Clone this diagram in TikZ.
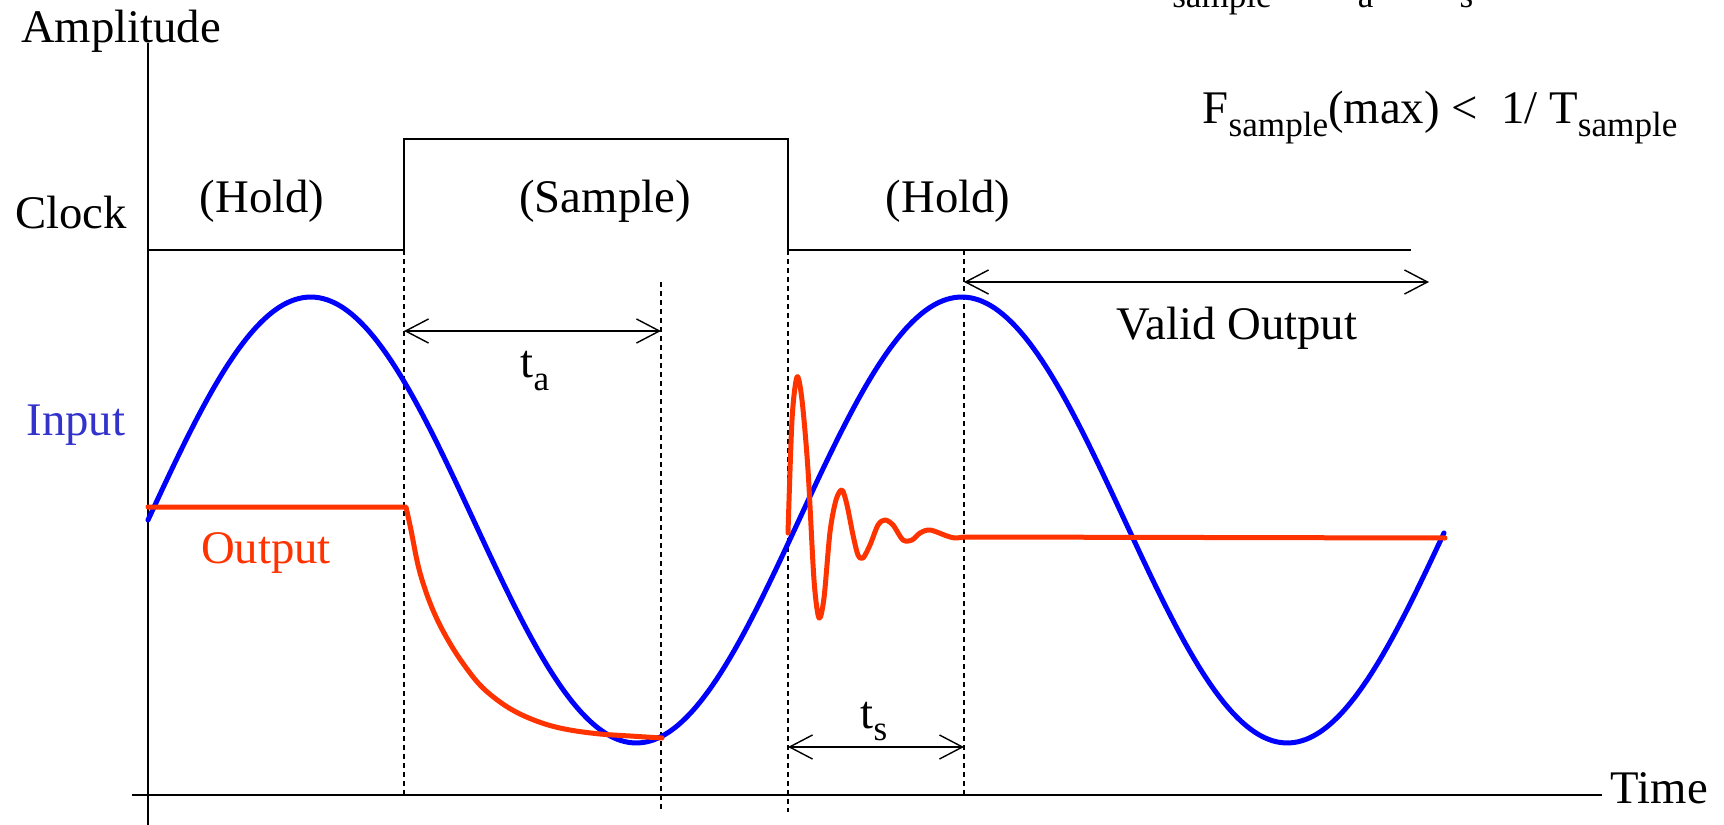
\documentclass[tikz,border=0pt]{standalone}
\usepackage{fontspec}
\setmainfont{Liberation Serif}
\usepackage{xcolor}
\usetikzlibrary{arrows.meta}
\definecolor{inblue}{RGB}{0,0,255}
\definecolor{intext}{RGB}{51,51,204}
\definecolor{outred}{RGB}{255,51,0}
\newcommand{\lowsub}[1]{\raisebox{-0.27em}{\fontsize{10}{10}\selectfont #1}}

\begin{document}
\begin{tikzpicture}[
  x=0.1mm, y=-0.1mm,
  font=\fontsize{13.3}{16}\selectfont,
  every node/.style={inner sep=0pt},
  lbl/.style={anchor=base},
  lblw/.style={anchor=base west},
  thinline/.style={line width=0.4pt},
  guide/.style={line width=0.4pt,dash pattern=on 0.5mm off 0.4mm},
  dim/.style={line width=0.4pt,{Straight Barb[length=2.3mm,width=2.4mm]}-{Straight Barb[length=2.3mm,width=2.4mm]}},
  input/.style={inblue,line width=0.5mm,line cap=round,line join=round},
  output/.style={outred,line width=0.5mm,line cap=round,line join=round}
]
\useasboundingbox (0,0) rectangle (1724,825);
\clip (0,0) rectangle (1724,825);

% axes
\coordinate (ytop) at (148,43);
\coordinate (ybot) at (148,825);
\coordinate (xleft) at (132,795);
\coordinate (xright) at (1602,795);
\draw[thinline] (ytop) -- (ybot);
\draw[thinline] (xleft) -- (xright);

% clock
\coordinate (ck0) at (148,250);
\coordinate (rise) at (404,250);
\coordinate (fall) at (788,250);
\coordinate (ckend) at (1411,250);
\draw[thinline] (ck0) -- (rise) -- (404,139) -- (788,139) -- (fall) -- (ckend);

% time marks
\coordinate (acq) at (661,282);
\coordinate (settle) at (964,250);
\draw[guide] (rise) -- (404,795);
\draw[guide] (acq) -- (661,812);
\draw[guide] (fall) -- (788,812);
\draw[guide] (settle) -- (964,795);

% intervals
\coordinate (ta0) at (404,331);
\coordinate (ta1) at (661,331);
\coordinate (ts0) at (788,747);
\coordinate (ts1) at (964,747);
\coordinate (vo0) at (964,282);
\coordinate (vo1) at (1429,282);
\draw[dim] (ta0) -- (ta1);
\draw[dim] (ts0) -- (ts1);
\draw[dim] (vo0) -- (vo1);

% signals
\draw[input] plot[domain=148:1444,samples=160,smooth] (\x,{520-223*sin((\x-148)/651*360)});
\draw[output] (148,507) -- plot[smooth,tension=0.6] coordinates {(406,507) (411,530) (418,565)
  (426,592) (436,617) (448,640) (462,662) (480,685) (500,702) (520,714) (545,724) (570,730)
  (600,734) (630,736) (662,738)};
\draw[output] plot[smooth,tension=0.5] coordinates {(788,533) (792,420) (797,377) (802,400) (808,470)
  (814,580) (819,618) (824,598) (830,532) (836,500) (842,490) (847,505) (853,535) (858,555)
  (863,558) (870,545) (878,525) (885,520) (893,525) (903,540) (912,540) (920,533) (930,530)
  (947,536) (955,538) (964,537)} -- (1445,538);

% labels
\node[lbl] (amp) at (121,43) {Amplitude};
\node[lbl] (clk) at (71,229) {Clock};
\node[lbl] (hold1) at (262,213) {(Hold)};
\node[lbl] (samp) at (605,213) {(Sample)};
\node[lbl] (hold2) at (948,213) {(Hold)};
\node[lbl,text=intext] (inlbl) at (76,435) {Input};
\node[lbl,text=outred] (outlbl) at (266,563) {Output};
\node[lblw] (talbl) at (520,378) {t\lowsub{a}};
\node[lblw] (tslbl) at (860,728) {t\lowsub{s}};
\node[lbl] (valid) at (1237,340) {Valid Output};
\node[lblw] (time) at (1610,803) {Time};
\node[lblw] (fmax) at (1202,124) {F\lowsub{sample}(max) <\ \ 1/ T\lowsub{sample}};
\node[lblw] (tsum) at (1143,-5) {T\lowsub{sample} \ = \ t\lowsub{a} \ + \ t\lowsub{s}};
\end{tikzpicture}
\end{document}
